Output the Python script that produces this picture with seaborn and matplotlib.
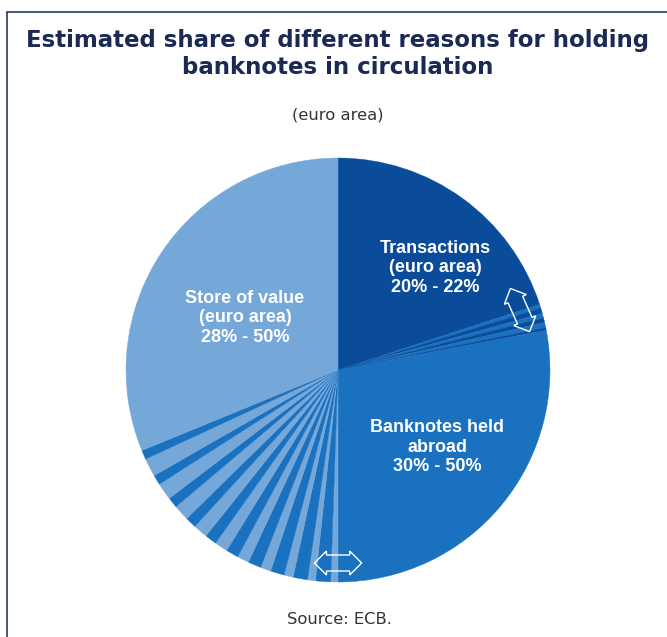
import matplotlib
matplotlib.use("Agg")
import matplotlib.pyplot as plt
from matplotlib.lines import Line2D
import seaborn as sns

sns.set_style("white")
plt.rcParams['font.family'] = ['DejaVu Sans']

# ---- data (shares in %, clockwise from 12 o'clock) ----
categories = ["Transactions\n(euro area)\n20% - 22%",
              "Banknotes held\nabroad\n30% - 50%",
              "Store of value\n(euro area)\n28% - 50%"]
transactions_solid = 20.0
# uncertainty band between transactions and abroad (20% - 22%)
trans_band_abroad = [0.30, 0.35, 0.40]
trans_band_trans = [0.40, 0.35, 0.20]
abroad_solid = 28.0
# uncertainty band between abroad and store of value
store_band_light = [0.55, 0.60, 0.70, 0.80, 0.90, 1.00, 1.10, 1.20, 1.30, 1.40]
store_band_abroad = [1.15, 1.10, 1.05, 1.00, 0.95, 0.90, 0.85, 0.80, 0.75, 0.70]

title_lines = ["Estimated share of different reasons for holding",
               "banknotes in circulation"]
subtitle = "(euro area)"
source = "Source: ECB."

C_TRANS = "#0a4c99"
C_ABROAD = "#1a71bf"
C_STORE = "#76a7d9"
C_TITLE = "#1b2a55"

# ---- build wedge sequence ----
sizes, colors = [transactions_solid], [C_TRANS]
for a, t in zip(trans_band_abroad, trans_band_trans):
    sizes += [a, t]
    colors += [C_ABROAD, C_TRANS]
sizes.append(abroad_solid)
colors.append(C_ABROAD)
for l, a in zip(store_band_light, store_band_abroad):
    sizes += [l, a]
    colors += [C_STORE, C_ABROAD]
sizes.append(100.0 - sum(sizes))
colors.append(C_STORE)

W, H = 667, 637
fig = plt.figure(figsize=(W / 100, H / 100), dpi=100)
ax = fig.add_axes([0, 0, 1, 1])

cx, cy, r = 338, H - 370, 212
wedges, _ = ax.pie(sizes, colors=colors, startangle=90, counterclock=False,
                   center=(cx, cy), radius=r, frame=True,
                   wedgeprops=dict(linewidth=0))
for w in wedges:
    w.set_edgecolor(w.get_facecolor())
    w.set_linewidth(0.3)
ax.set_xlim(0, W)
ax.set_ylim(0, H)
ax.set_aspect("equal")
ax.axis("off")

# labels
lab_font = dict(family="Liberation Sans", weight="bold", color="white",
                fontsize=13, ha="center", va="center", linespacing=1.2)
ax.text(435, H - 268, categories[0], **lab_font)
ax.text(437, H - 447, categories[1], **lab_font)
ax.text(245, H - 318, categories[2], **lab_font)

# double arrows (uncertainty)
arrow_kw = dict(fontsize=7.2, color="none", ha="center", va="center",
                rotation_mode="anchor",
                bbox=dict(boxstyle="darrow,pad=0.3", fc="none", ec="white", lw=1.0))
ax.text(338, H - 563, "xxxxx", **arrow_kw)
ax.text(520, H - 310, "xxxxx", rotation=-66, **arrow_kw)

# titles
ax.text(338, H - 40, title_lines[0], fontsize=16.5, weight="bold", color=C_TITLE,
        ha="center", va="center")
ax.text(338, H - 68, title_lines[1], fontsize=16.5, weight="bold", color=C_TITLE,
        ha="center", va="center")
ax.text(338, H - 115, subtitle, fontsize=11.8, color="#333333",
        ha="center", va="center")
ax.text(339, H - 620, source, fontsize=11.8, color="#333333",
        ha="center", va="center")

# frame lines (left and top)
ax.add_line(Line2D([7, 7], [0, H - 12], color="#2b3a67", lw=1.2))
ax.add_line(Line2D([7, W], [H - 12, H - 12], color="#2b3a67", lw=1.2))

fig.savefig("out.png", dpi=100)
